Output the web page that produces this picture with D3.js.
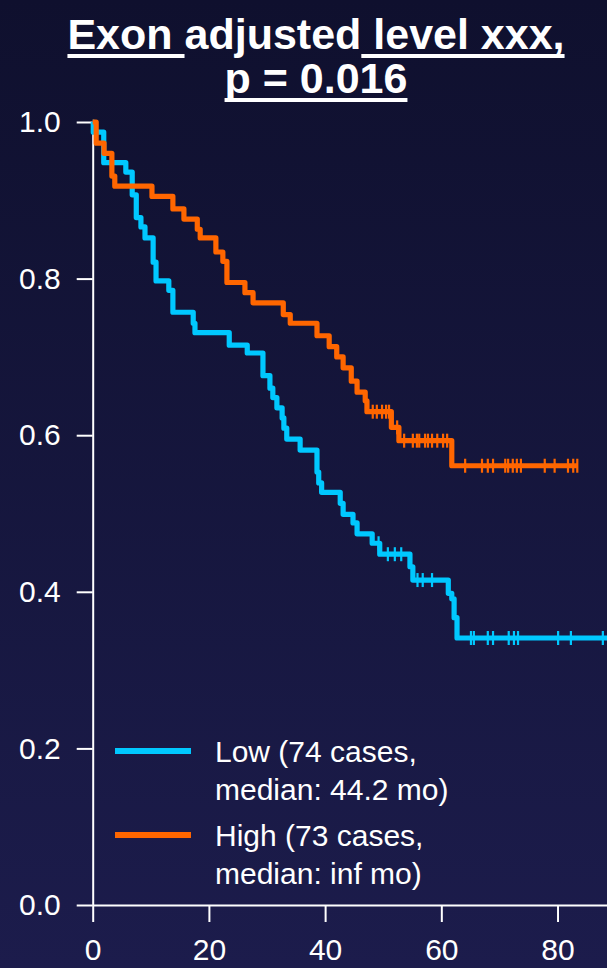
<!DOCTYPE html>
<html>
<head>
<meta charset="utf-8">
<script src="https://cdn.jsdelivr.net/npm/d3@7"></script>
<style>
  html, body { margin: 0; padding: 0; background: #15153c; }
  svg { display: block; }
  text { font-family: "Liberation Sans", Arial, sans-serif; }
</style>
</head>
<body>
<svg id="chart" width="607" height="968"></svg>
<script>
// ---------- data ----------
const titleLine1 = "Exon adjusted level xxx,";
const titleUnderlines1 = [[0, 5], [13, 11]]; // [start char, length]
const titleLine2 = "p = 0.016";

const yTicks = [0, 0.2, 0.4, 0.6, 0.8, 1.0];
const xTicks = [0, 20, 40, 60, 80];

// Low group: event times (months) and survival after each event
const lowTimes = [0.1, 1.9, 5.7, 6.8, 7.5, 8.3, 9.0, 10.4, 10.9, 13.1, 13.8, 17.3, 17.6, 23.5, 26.6, 29.3, 30.5, 31.0, 31.7, 32.6, 32.9, 33.4, 35.7, 38.6, 38.9, 39.4, 42.6, 43.1, 44.8, 45.5, 48.1, 49.4, 54.6, 55.1, 61.2, 61.8, 62.2, 62.7];
const lowSurv  = [0.987, 0.948, 0.936, 0.907, 0.878, 0.866, 0.852, 0.821, 0.797, 0.785, 0.757, 0.743, 0.731, 0.715, 0.705, 0.676, 0.660, 0.648, 0.635, 0.622, 0.609, 0.595, 0.581, 0.553, 0.539, 0.527, 0.513, 0.499, 0.488, 0.474, 0.462, 0.448, 0.432, 0.415, 0.398, 0.391, 0.367, 0.341];
const lowCensor = [49.2, 50.8, 52.0, 53.1, 55.9, 56.8, 58.4, 65.1, 65.6, 68.0, 68.9, 71.6, 72.5, 73.2, 80.1, 82.3, 87.8];
const lowEnd = 90;

// High group
const highTimes = [0.6, 1.95, 3.3, 3.8, 10.2, 13.8, 15.7, 18.0, 18.5, 21.2, 22.4, 23.1, 26.2, 27.6, 32.8, 34.0, 38.6, 40.7, 42.0, 43.1, 44.5, 45.5, 46.9, 47.2, 51.4, 52.7, 61.8];
const highSurv  = [0.973, 0.960, 0.931, 0.918, 0.905, 0.889, 0.876, 0.863, 0.852, 0.834, 0.822, 0.795, 0.782, 0.769, 0.754, 0.743, 0.727, 0.713, 0.700, 0.686, 0.669, 0.655, 0.644, 0.630, 0.610, 0.593, 0.561];
const highCensor = [48.2, 48.9, 49.8, 50.5, 51.0, 52.4, 53.6, 55.1, 55.8, 56.2, 57.2, 57.7, 58.4, 59.3, 60.3, 61.0, 64.1, 67.0, 68.0, 68.9, 71.0, 71.5, 72.3, 73.0, 73.7, 77.8, 79.5, 81.8, 82.7, 83.4];
const highEnd = 83.5;

const groups = [
  { name: "Low",  times: lowTimes,  surv: lowSurv,  censor: lowCensor,  end: lowEnd,  color: "#00c8ff",
    label: ["Low (74 cases,", "median: 44.2 mo)"] },
  { name: "High", times: highTimes, surv: highSurv, censor: highCensor, end: highEnd, color: "#ff6600",
    label: ["High (73 cases,", "median: inf mo)"] }
];

// ---------- layout ----------
const W = 607, H = 968;
const svg = d3.select("#chart");

const defs = svg.append("defs");
const grad = defs.append("linearGradient").attr("id", "bg").attr("x1", 0).attr("y1", 0).attr("x2", 0).attr("y2", 1);
grad.append("stop").attr("offset", "0%").attr("stop-color", "#0f102e");
grad.append("stop").attr("offset", "100%").attr("stop-color", "#1c1c4c");
svg.append("rect").attr("width", W).attr("height", H).attr("fill", "url(#bg)");

defs.append("clipPath").attr("id", "plotclip")
  .append("rect").attr("x", 0).attr("y", 0).attr("width", W).attr("height", H);

const x = d3.scaleLinear().domain([0, 88.6]).range([92.7, 607.5]);
const y = d3.scaleLinear().domain([0, 1]).range([905, 122]);

// ---------- title ----------
function titleLine(str, cx, baseline, ranges) {
  const t = svg.append("text")
    .attr("x", cx).attr("y", baseline)
    .attr("text-anchor", "middle")
    .attr("fill", "#ffffff")
    .attr("font-size", 43).attr("font-weight", "bold")
    .text(str);
  const node = t.node();
  ranges.forEach(([s, n]) => {
    const x0 = node.getStartPositionOfChar(s).x;
    const len = node.getSubStringLength(s, n);
    svg.append("rect").attr("x", x0).attr("y", baseline + 5)
      .attr("width", len).attr("height", 4).attr("fill", "#ffffff");
  });
}
titleLine(titleLine1, 316, 49, titleUnderlines1);
titleLine(titleLine2, 316, 93, [[0, titleLine2.length]]);

// ---------- axes ----------
const yAxis = d3.axisLeft(y).tickValues(yTicks).tickFormat(d3.format(".1f"))
  .tickSize(16).tickSizeOuter(0).tickPadding(16);
const xAxis = d3.axisBottom(x).tickValues(xTicks).tickFormat(d3.format("d"))
  .tickSize(17).tickSizeOuter(0).tickPadding(17);

const gy = svg.append("g").attr("transform", `translate(${x(0)},0)`).call(yAxis);
const gx = svg.append("g").attr("transform", `translate(0,${y(0)})`).call(xAxis);
[gx, gy].forEach(g => {
  g.selectAll("path, line").attr("stroke", "#ffffff").attr("stroke-width", 2);
  g.selectAll("text").attr("fill", "#ffffff").attr("font-size", 30)
    .attr("font-family", "'Liberation Sans', Arial, sans-serif");
});

// ---------- curves ----------
const line = d3.line().x(d => x(d[0])).y(d => y(d[1])).curve(d3.curveStepAfter);
const plot = svg.append("g").attr("clip-path", "url(#plotclip)");

function survAt(g, t) {
  let s = 1;
  for (let i = 0; i < g.times.length; i++) if (g.times[i] <= t) s = g.surv[i];
  return s;
}

groups.forEach(g => {
  const pts = [[0, 1]];
  g.times.forEach((t, i) => pts.push([t, g.surv[i]]));
  pts.push([g.end, g.surv[g.surv.length - 1]]);
  plot.append("path").datum(pts)
    .attr("d", line)
    .attr("fill", "none")
    .attr("stroke", g.color)
    .attr("stroke-width", 5.2)
    .attr("stroke-linejoin", "round");
  plot.selectAll(null).data(g.censor).enter().append("line")
    .attr("x1", d => x(d)).attr("x2", d => x(d))
    .attr("y1", d => y(survAt(g, d)) - 7).attr("y2", d => y(survAt(g, d)) + 7)
    .attr("stroke", g.color).attr("stroke-width", 2.2);
});

// ---------- legend ----------
const legend = svg.append("g");
const legendY = [751, 835];
groups.forEach((g, i) => {
  legend.append("line")
    .attr("x1", 115).attr("x2", 191)
    .attr("y1", legendY[i]).attr("y2", legendY[i])
    .attr("stroke", g.color).attr("stroke-width", 6);
  g.label.forEach((lab, j) => {
    legend.append("text")
      .attr("x", 215).attr("y", legendY[i] + 11 + j * 38)
      .attr("fill", "#ffffff").attr("font-size", 30)
      .text(lab);
  });
});
</script>
</body>
</html>
